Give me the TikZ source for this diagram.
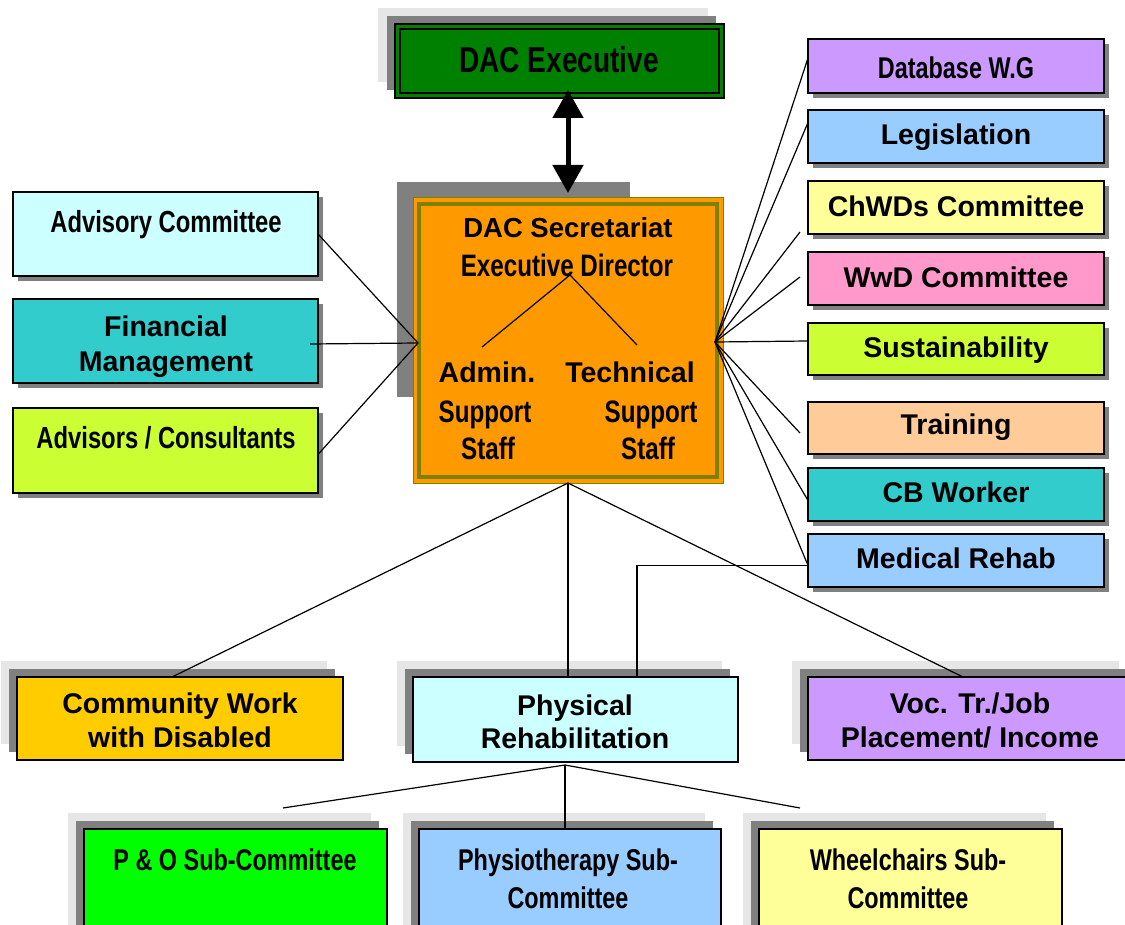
\documentclass[tikz,border=0pt]{standalone}
\usepackage{fontspec}
\setmainfont{Liberation Sans}
\newfontfamily\narrowfont[UprightFont=* Bold, FakeStretch=0.78]{Liberation Sans}
\usetikzlibrary{fit,calc,arrows.meta}
\definecolor{cGreen}{HTML}{008000}
\definecolor{cOrange}{HTML}{FF9900}
\definecolor{cOlive}{HTML}{808000}
\definecolor{cLCyan}{HTML}{CCFFFF}
\definecolor{cTeal}{HTML}{33CCCC}
\definecolor{cLime}{HTML}{CCFF33}
\definecolor{cLav}{HTML}{CC99FF}
\definecolor{cSky}{HTML}{99CCFF}
\definecolor{cLYellow}{HTML}{FFFF99}
\definecolor{cPink}{HTML}{FF99CC}
\definecolor{cPeach}{HTML}{FFCC99}
\definecolor{cGold}{HTML}{FFCC00}
\definecolor{cBGreen}{HTML}{00FF00}
\definecolor{shDark}{HTML}{808080}
\definecolor{shLight}{HTML}{E6E6E6}
\tikzset{
  boxst/.style={draw=black, line width=1.5pt, inner sep=0pt, outer sep=0pt},
  conn/.style={draw=black, line width=1.2pt},
  bt/.style={inner sep=0pt, anchor=base, font=\bfseries\fontsize{28.5}{33}\selectfont},
  nt/.style={inner sep=0pt, anchor=base, font=\narrowfont\fontsize{30.5}{36}\selectfont},
}
\newcommand\sidebox[6]{%
  \fill[shDark] (#2+5,#3+5) rectangle (#4+5,#5+5);
  \node[boxst, fill=#6, fit={(#2,#3) (#4,#5)}] (#1) {};}
\newcommand\layerbox[6]{%
  \fill[shLight] (#2-16,#3-16) rectangle (#4-16,#5-16);
  \fill[shDark] (#2-8,#3-8) rectangle (#4-8,#5-8);
  \node[boxst, fill=#6, fit={(#2,#3) (#4,#5)}] (#1) {};}
\begin{document}
\begin{tikzpicture}[x=1pt,y=-1pt]
\useasboundingbox (0,0) rectangle (1125,925);
\clip (0,0) rectangle (1125,925);

% DAC Executive
\fill[shLight] (378,8) rectangle (708,82);
\fill[shDark] (387,16) rectangle (716,90);
\node[draw=black, line width=2pt, fill=cGreen, inner sep=0pt, outer sep=0pt, fit={(395,24) (724,98)}] (exec) {};
\draw[black, line width=1.5pt] ($(exec.north west)+(5,5)$) rectangle ($(exec.south east)+(-5,-5)$);
\node[inner sep=0pt, anchor=base, font=\narrowfont\fontsize{36}{40}\selectfont] (execT) at (559,73) {DAC Executive};

% Secretariat
\fill[shDark] (397,182) rectangle (630,397);
\node[draw=cOlive, line width=1pt, fill=cOrange, inner sep=0pt, outer sep=0pt, fit={(413,198) (723,483)}] (sec) {};
\draw[cOlive, line width=4pt] ($(sec.north west)+(6,6)$) rectangle ($(sec.south east)+(-6,-6)$);
\node[inner sep=0pt, anchor=base, font=\bfseries\fontsize{27.5}{33}\selectfont] (secT1) at (568,238) {DAC Secretariat};
\node[nt, font=\narrowfont\fontsize{31}{36}\selectfont] (secT2) at (567,277) {Executive Director};
\node[bt] (admT1) at (487,383) {Admin.};
\node[nt, font=\narrowfont\fontsize{31}{36}\selectfont] (admT2) at (485,422) {Support};
\node[nt, font=\narrowfont\fontsize{31}{36}\selectfont] (admT3) at (488,459) {Staff};
\node[bt] (tecT1) at (630,383) {Technical};
\node[nt, font=\narrowfont\fontsize{31}{36}\selectfont] (tecT2) at (651,422) {Support};
\node[nt, font=\narrowfont\fontsize{31}{36}\selectfont] (tecT3) at (648,459) {Staff};
\coordinate (dirP) at (570,275);
\coordinate (admP) at (482,347);
\coordinate (tecP) at (637,345);
\draw[conn] (admP) -- (dirP) -- (tecP);

% arrow
\coordinate (arrT) at (568,90);
\coordinate (arrB) at (568,193);
\draw[line width=5pt, {Triangle[width=30pt,length=28pt]}-{Triangle[width=30pt,length=28pt]}] (arrT) -- (arrB);

% left boxes
\sidebox{adv}{13}{192}{318}{276}{cLCyan}
\node[nt] (advT) at (166,233) {Advisory Committee};
\sidebox{fin}{13}{299}{318}{383}{cTeal}
\node[bt] (finT1) at (166,337) {Financial};
\node[bt] (finT2) at (166,371) {Management};
\sidebox{adc}{13}{408}{318}{493}{cLime}
\node[nt] (adcT) at (166,448) {Advisors / Consultants};

% right boxes
\sidebox{db}{808}{39}{1104}{93}{cLav}
\node[nt, font=\narrowfont\fontsize{30}{36}\selectfont] (dbT) at (956,79) {Database W.G};
\sidebox{leg}{808}{110}{1104}{163}{cSky}
\node[bt] (legT) at (956,145) {Legislation};
\sidebox{chw}{808}{181}{1104}{234}{cLYellow}
\node[bt] (chwT) at (956,217) {ChWDs Committee};
\sidebox{wwd}{808}{252}{1104}{305}{cPink}
\node[bt] (wwdT) at (956,288) {WwD Committee};
\sidebox{sus}{808}{323}{1104}{375}{cLime}
\node[bt] (susT) at (956,358) {Sustainability};
\sidebox{trn}{808}{402}{1104}{454}{cPeach}
\node[bt] (trnT) at (956,435) {Training};
\sidebox{cbw}{808}{468}{1104}{521}{cTeal}
\node[bt] (cbwT) at (956,502) {CB Worker};
\sidebox{med}{808}{534}{1104}{587}{cSky}
\node[bt] (medT) at (956,568) {Medical Rehab};

% bottom row
\layerbox{comm}{17}{677}{343}{760}{cGold}
\node[bt] (commT1) at (180,713) {Community Work};
\node[bt] (commT2) at (180,747) {with Disabled};
\layerbox{phys}{413}{677}{738}{762}{cLCyan}
\node[bt] (physT1) at (575,715) {Physical};
\node[bt] (physT2) at (575,748) {Rehabilitation};
\layerbox{voc}{808}{677}{1135}{760}{cLav}
\node[bt] (vocT1) at (970,713) {Voc. Tr./Job};
\node[bt] (vocT2) at (970,747) {Placement/ Income};

% sub-committees
\layerbox{po}{84}{829}{387}{960}{cBGreen}
\node[nt, font=\narrowfont\fontsize{30}{38}\selectfont] (poT) at (235,870) {P \& O Sub-Committee};
\layerbox{pt}{419}{829}{721}{960}{cSky}
\node[nt, font=\narrowfont\fontsize{30}{38}\selectfont] (ptT1) at (568,870) {Physiotherapy Sub-};
\node[nt, font=\narrowfont\fontsize{30}{38}\selectfont] (ptT2) at (568,908) {Committee};
\layerbox{wc}{759}{829}{1062}{960}{cLYellow}
\node[nt, font=\narrowfont\fontsize{30}{38}\selectfont] (wcT1) at (908,870) {Wheelchairs Sub-};
\node[nt, font=\narrowfont\fontsize{30}{38}\selectfont] (wcT2) at (908,908) {Committee};

% connectors left
\coordinate (secL) at (418,343);
\draw[conn] (adv.east) -- (secL);
\draw[conn] ($(fin.east)+(-8,3)$) -- (secL);
\draw[conn] ($(adc.east)+(0,4)$) -- (secL);

% connectors right
\coordinate (secR) at (715,342);
\coordinate (chwE) at (800,232);
\coordinate (wwdE) at (800,277);
\coordinate (trnE) at (800,433);
\draw[conn] (secR) -- ($(db.west)+(0,-8)$);
\draw[conn] (secR) -- ($(leg.west)+(0,-14)$);
\draw[conn] (secR) -- (chwE);
\draw[conn] (secR) -- (wwdE);
\draw[conn] (secR) -- ($(sus.west)+(0,-8)$);
\draw[conn] (secR) -- (trnE);
\draw[conn] (secR) -- ($(cbw.west)+(0,6)$);
\draw[conn] (secR) -- ($(med.west)+(0,5)$);
\draw[conn] ($(med.west)+(0,5)$) -| ($(phys.north)+(61.5,0)$);

% connectors down
\draw[conn] (sec.south) -- ($(comm.north)+(-8,0)$);
\draw[conn] (sec.south) -- (sec.south |- phys.north);
\draw[conn] (sec.south) -- ($(voc.north)+(-8.5,0)$);

% physical rehab to sub-committees
\coordinate (physB) at (565,765);
\coordinate (poE) at (283,808);
\coordinate (wcE) at (800,808);
\draw[conn] (poE) -- (physB) -- (wcE);
\draw[conn] (physB) -- (physB |- pt.north);
\end{tikzpicture}
\end{document}
